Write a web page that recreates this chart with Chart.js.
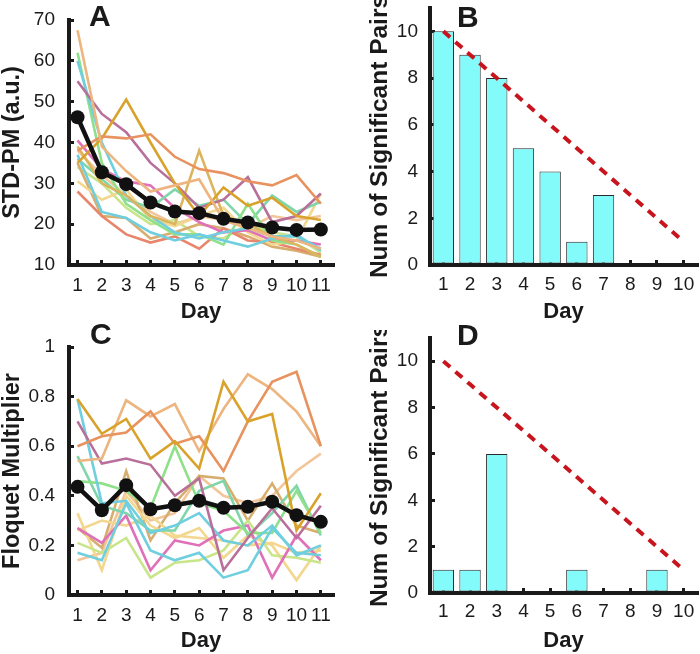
<!DOCTYPE html>
<html><head><meta charset="utf-8">
<script src="https://cdn.jsdelivr.net/npm/chart.js@4/dist/chart.umd.min.js"></script>
<style>
html,body{margin:0;padding:0;background:#fff;}
#wrap{position:relative;width:700px;height:654px;overflow:hidden;background:#fff;}
canvas{position:absolute;}
.lbl{position:absolute;font:bold 30px "Liberation Sans",Arial,sans-serif;line-height:30px;color:#1a1a1a;}
</style></head><body>
<div id="wrap">
<canvas id="cA" width="350" height="330" style="left:0;top:0"></canvas>
<canvas id="cB" width="350" height="330" style="left:350px;top:0"></canvas>
<canvas id="cC" width="350" height="324" style="left:0;top:330px"></canvas>
<canvas id="cD" width="350" height="324" style="left:350px;top:330px"></canvas>
<div class="lbl" style="left:89px;top:1px">A</div>
<div class="lbl" style="left:457px;top:2px">B</div>
<div class="lbl" style="left:90px;top:319px">C</div>
<div class="lbl" style="left:457px;top:320px">D</div>
</div>
<script>
// ---------- data ----------
const days11 = [1,2,3,4,5,6,7,8,9,10,11];
const days10 = [1,2,3,4,5,6,7,8,9,10];
const lineColors = ['#EDB57F','#E8935F','#D9A22B','#B8709A','#DDB45E','#6FCFDF','#6FCFDF','#8FE08A','#7FD6AA','#E070B8','#F3D78E','#E8866C','#D7AE6E','#C9E58A','#F2C59A'];

const stdA1  = [67.5, 39, 33, 28, 29.5, 31, 21, 19, 17, 16, 14];
const stdA2  = [38, 41.5, 41, 42, 36.5, 33.5, 32.5, 30.5, 29.5, 32, 25];
const stdA3  = [35, 41, 50.5, 40, 30, 22, 29, 24.5, 26.5, 22, 21];
const stdA4  = [55, 47, 42.5, 35, 30, 24, 26, 31.5, 20.5, 22, 27.5];
const stdA5  = [39, 30, 27, 22, 20, 38, 22, 20, 17, 15, 12];
const stdA6  = [60, 40, 27, 22, 18, 16.5, 18, 19, 17, 17, 14];
const stdA7  = [37, 23, 21.5, 18, 16, 17.5, 16, 14.5, 16.5, 17.5, 13.5];
const stdA8  = [62, 35, 25, 21, 17.5, 17.5, 15, 25, 16, 15, 12];
const stdA9  = [36, 31, 26, 24, 28.5, 24.5, 26, 20, 27, 23, 25.5];
const stdA10 = [40.5, 33.5, 30.5, 29.5, 24, 20.5, 18, 18.5, 16, 16, 15];
const stdA11 = [30.5, 26, 28.5, 21, 19.5, 22, 24, 18, 15, 16, 27.5];
const stdA12 = [28, 22, 17.5, 15.5, 17, 14, 19, 16, 15.5, 14, 12.5];
const stdA13 = [35, 22, 21.5, 16.5, 18, 20, 19, 17, 14.5, 13.5, 12];
const stdA14 = [34, 30, 24, 20, 21, 17, 16.5, 20, 18, 17, 13];
const stdA15 = [38, 32, 27, 23, 20, 22, 21, 19, 22, 21, 22];
const stdMean = [46.2, 32.7, 29.8, 25.3, 23.1, 22.7, 21.3, 20.4, 19.2, 18.6, 18.7];

const flqC1  = [0.79, 0.65, 0.71, 0.55, 0.62, 0.51, 0.86, 0.70, 0.73, 0.26, 0.41];
const flqC2  = [0.60, 0.64, 0.655, 0.74, 0.61, 0.64, 0.50, 0.70, 0.86, 0.90, 0.60];
const flqC3  = [0.54, 0.55, 0.785, 0.72, 0.77, 0.58, 0.75, 0.89, 0.83, 0.74, 0.60];
const flqC4  = [0.70, 0.53, 0.55, 0.525, 0.40, 0.47, 0.10, 0.23, 0.35, 0.23, 0.36];
const flqC5  = [0.79, 0.37, 0.38, 0.25, 0.28, 0.33, 0.22, 0.20, 0.28, 0.16, 0.20];
const flqC6  = [0.17, 0.14, 0.37, 0.18, 0.14, 0.17, 0.07, 0.10, 0.27, 0.17, 0.16];
const flqC7  = [0.46, 0.45, 0.42, 0.35, 0.60, 0.37, 0.34, 0.25, 0.25, 0.42, 0.25];
const flqC8  = [0.56, 0.36, 0.33, 0.26, 0.26, 0.42, 0.46, 0.24, 0.33, 0.44, 0.24];
const flqC9  = [0.27, 0.21, 0.32, 0.10, 0.22, 0.20, 0.26, 0.28, 0.07, 0.24, 0.14];
const flqC10 = [0.21, 0.17, 0.23, 0.07, 0.13, 0.14, 0.18, 0.30, 0.16, 0.15, 0.13];
const flqC11 = [0.33, 0.10, 0.40, 0.28, 0.23, 0.27, 0.15, 0.24, 0.20, 0.06, 0.20];
const flqC12 = [0.26, 0.30, 0.28, 0.32, 0.24, 0.23, 0.22, 0.20, 0.21, 0.17, 0.18];
const flqC13 = [0.27, 0.19, 0.50, 0.22, 0.37, 0.48, 0.47, 0.30, 0.45, 0.28, 0.25];
const flqC14 = [0.14, 0.17, 0.42, 0.30, 0.33, 0.48, 0.40, 0.37, 0.40, 0.50, 0.57];
const flqColorsIdx = [2,1,0,3,5,6,7,8,9,13,10,10,12,14];
const flqMean = [0.436, 0.342, 0.443, 0.346, 0.362, 0.38, 0.352, 0.356, 0.376, 0.322, 0.295];

const sigPairsB = [10, 9, 8, 5, 4, 1, 3, 0, 0, 0];
const sigPairsD = [1, 1, 6, 0, 0, 1, 0, 0, 1, 0];
const maxPairs  = [10, 9, 8, 7, 6, 5, 4, 3, 2, 1];

const yTicksA = [10,20,30,40,50,60,70];
const yTicksC = [0,0.2,0.4,0.6,0.8,1];
const yTicksBD = [0,2,4,6,8,10];

// ---------- helpers ----------
const FONT = '"Liberation Sans", Arial, sans-serif';
Chart.defaults.font.family = FONT;
Chart.defaults.color = '#1a1a1a';
const TICK_LEN = 5;

function pts(xs, ys) { return xs.map((d, i) => ({x: d, y: ys[i]})); }

const inwardGrid = {display: true, offset: false, drawOnChartArea: false, drawTicks: true, tickLength: -TICK_LEN, color: '#1a1a1a', lineWidth: 3};

function axes(o) {
  return {
    x: {
      type: 'linear', min: o.xMin, max: o.xMax, offset: false,
      afterBuildTicks: s => { s.ticks = o.xTicks.map(v => ({value: v})); },
      afterFit: s => { s.height = o.xH; s.paddingLeft = 0; s.paddingRight = 0; },
      grid: inwardGrid,
      border: {display: true, width: 4, color: '#1a1a1a'},
      ticks: {font: {size: 19}, padding: o.xPad + TICK_LEN, maxRotation: 0, autoSkip: false, color: '#1a1a1a', callback: v => String(v)},
      title: {display: true, text: 'Day', font: {size: 22, weight: 'bold'}, color: '#1a1a1a', padding: {top: 0, bottom: o.xTitlePad}}
    },
    y: {
      type: 'linear', min: o.yMin, max: o.yMax,
      afterBuildTicks: s => { s.ticks = o.yTicks.map(v => ({value: v})); },
      afterFit: s => { s.width = o.yW; s.paddingTop = 0; s.paddingBottom = 0; },
      grid: inwardGrid,
      border: {display: true, width: 4, color: '#1a1a1a'},
      ticks: {font: {size: 19}, padding: o.yPad + TICK_LEN, autoSkip: false, color: '#1a1a1a', callback: v => String(Math.round(v * 10) / 10)},
      title: {display: true, text: o.yTitle, font: {size: o.yTitleSize, weight: 'bold'}, color: '#1a1a1a', padding: {top: o.yTitlePad, bottom: 0}}
    }
  };
}

function baseOptions(o) {
  return {
    responsive: false, animation: false, devicePixelRatio: 1,
    layout: {padding: {left: 0, top: o.top, right: o.right, bottom: 0}},
    plugins: {legend: {display: false}, tooltip: {enabled: false}},
    scales: axes(o)
  };
}

function lineCfg(series, colorIdx, mean, o) {
  const ds = [{
    data: pts(days11, mean), borderColor: '#111', backgroundColor: '#111',
    borderWidth: 4.5, pointRadius: 7, pointBackgroundColor: '#111', pointBorderWidth: 0, tension: 0
  }];
  series.forEach((s, i) => ds.push({
    data: pts(days11, s), borderColor: lineColors[colorIdx[i]], borderWidth: 2.6, pointRadius: 0, tension: 0
  }));
  return {type: 'line', data: {datasets: ds}, options: baseOptions(o)};
}

function barCfg(vals, o) {
  return {
    type: 'bar',
    data: {datasets: [
      {type: 'line', data: pts(days10, maxPairs), borderColor: '#C8141C', borderWidth: 4, borderDash: [9, 7], pointRadius: 0, tension: 0},
      {type: 'bar', data: pts(days10, vals), backgroundColor: '#84FBFB', borderColor: '#2a2a2a', borderWidth: 1, borderSkipped: false, barPercentage: 0.8, categoryPercentage: 1, grouped: false}
    ]},
    options: baseOptions(o)
  };
}

const seriesA = [stdA1,stdA2,stdA3,stdA4,stdA5,stdA6,stdA7,stdA8,stdA9,stdA10,stdA11,stdA12,stdA13,stdA14,stdA15];
const seriesC = [flqC1,flqC2,flqC3,flqC4,flqC5,flqC6,flqC7,flqC8,flqC9,flqC10,flqC11,flqC12,flqC13,flqC14];

new Chart(document.getElementById('cA'), lineCfg(seriesA, seriesA.map((_, i) => i), stdMean, {
  xMin: 0.65, xMax: 11.5, xTicks: days11, xH: 65, xPad: 9, xTitlePad: 5,
  yMin: 10, yMax: 70, yTicks: yTicksA, yW: 69, yPad: 14, yTitle: 'STD-PM (a.u.)', yTitleSize: 23.5, yTitlePad: -2,
  top: 20, right: 17
}));
new Chart(document.getElementById('cC'), lineCfg(seriesC, flqColorsIdx, flqMean, {
  xMin: 0.65, xMax: 11.5, xTicks: days11, xH: 59, xPad: 9, xTitlePad: 0,
  yMin: 0, yMax: 1, yTicks: yTicksC, yW: 69, yPad: 14, yTitle: 'Floquet Multiplier', yTitleSize: 23.5, yTitlePad: -2,
  top: 17, right: 17
}));
new Chart(document.getElementById('cB'), barCfg(sigPairsB, {
  xMin: 0.5, xMax: 10.5, xTicks: days10, xH: 65, xPad: 8, xTitlePad: 5,
  yMin: 0, yMax: 11, yTicks: yTicksBD, yW: 80, yPad: 12, yTitle: 'Num of Significant Pairs', yTitleSize: 24.5, yTitlePad: 16,
  top: 8, right: 3
}));
new Chart(document.getElementById('cD'), barCfg(sigPairsD, {
  xMin: 0.5, xMax: 10.5, xTicks: days10, xH: 61, xPad: 7, xTitlePad: 0,
  yMin: 0, yMax: 11, yTicks: yTicksBD, yW: 80, yPad: 12, yTitle: 'Num of Significant Pairs', yTitleSize: 24.5, yTitlePad: 16,
  top: 8, right: 3
}));
</script>
</body></html>
